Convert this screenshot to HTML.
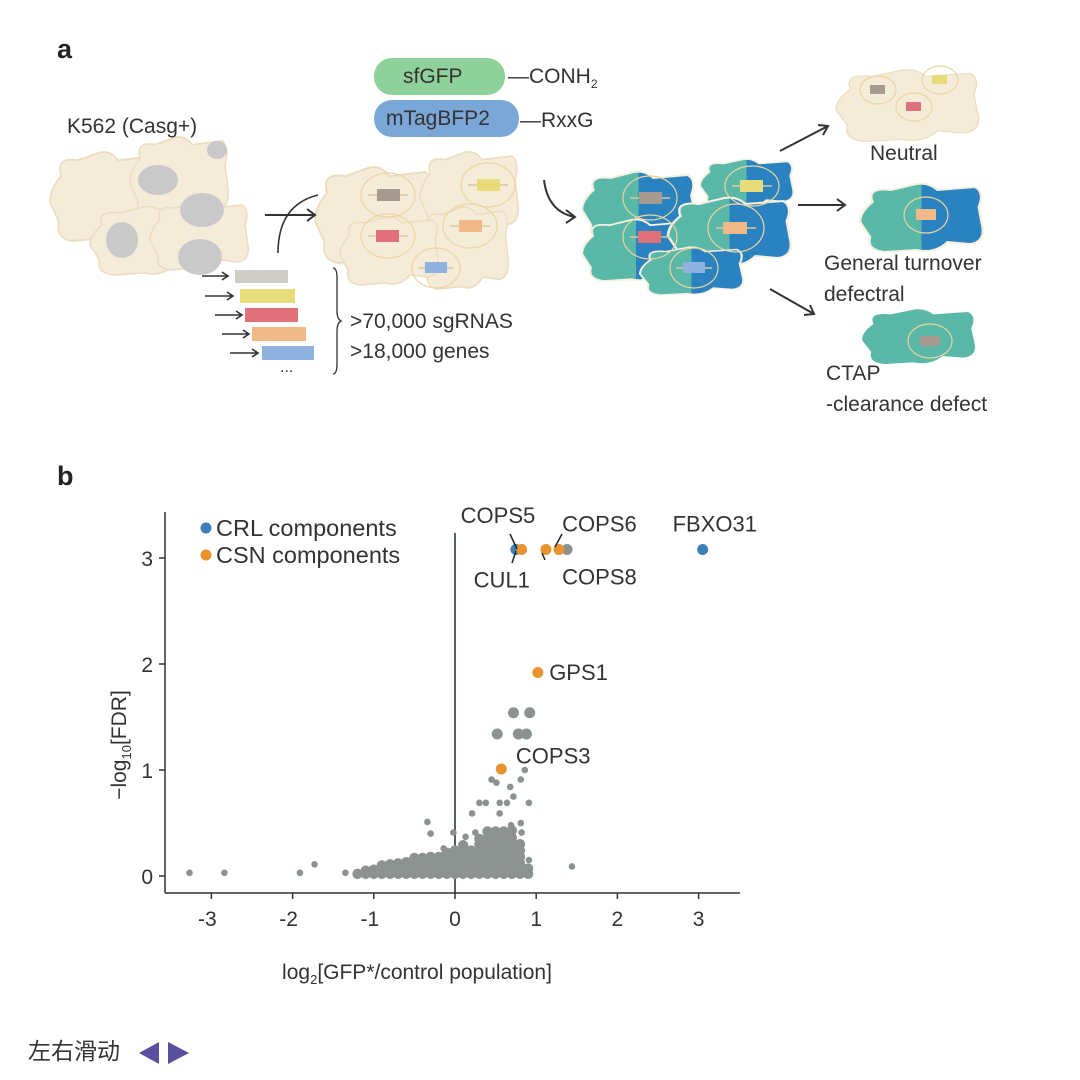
<!DOCTYPE html>
<html><head><meta charset="utf-8"><style>
body{margin:0;background:#fff;}
#wrap{position:relative;width:1080px;height:1080px;overflow:hidden;font-family:"Liberation Sans","Noto Sans CJK SC",sans-serif;color:#333;}
.t{position:absolute;white-space:nowrap;line-height:1;}
svg{position:absolute;left:0;top:0;}
</style></head><body>
<div id="wrap">
<svg width="1080" height="1080">
<defs>
<linearGradient id="tb" x1="0" x2="1" y1="0" y2="0"><stop offset="0.5" stop-color="#5ab8a8"/><stop offset="0.5" stop-color="#2b82c0"/></linearGradient>
<path id="blob" d="M10,20 Q5,5 25,8 L45,2 Q55,0 62,8 L92,5 Q100,10 95,25 L98,45 Q100,60 88,62 L70,60 Q60,72 45,68 L20,70 Q5,68 8,55 L0,40 Q0,30 10,20 Z"/>
</defs>
<g fill="#f4ebd9" stroke="#eedcc0" stroke-width="1.5">
<use href="#blob" transform="translate(50,150) scale(1.1,1.3)"/>
<use href="#blob" transform="translate(130,135) scale(1.0,1.2)"/>
<use href="#blob" transform="translate(90,205) scale(1.2,1.0)"/>
<use href="#blob" transform="translate(150,200) scale(1.0,1.0)"/>
</g>
<g fill="#c9c9c9">
<ellipse cx="158" cy="180" rx="20" ry="15"/><ellipse cx="202" cy="210" rx="22" ry="17"/><ellipse cx="122" cy="240" rx="16" ry="18"/><ellipse cx="200" cy="257" rx="22" ry="18"/><ellipse cx="217" cy="150" rx="10" ry="9"/>
</g>
<g fill="#f4ebd9" stroke="#eedcc0" stroke-width="1.5">
<use href="#blob" transform="translate(315,165) scale(1.2,1.4)"/>
<use href="#blob" transform="translate(420,150) scale(1.0,1.2)"/>
<use href="#blob" transform="translate(420,205) scale(0.9,1.2)"/>
<use href="#blob" transform="translate(340,215) scale(1.0,1.0)"/>
</g>
<g fill="none" stroke="#e9d6a0" stroke-width="1.2">
<ellipse cx="388" cy="195" rx="27" ry="22"/><ellipse cx="488" cy="185" rx="27" ry="22"/><ellipse cx="388" cy="236" rx="27" ry="22"/><ellipse cx="470" cy="226" rx="27" ry="22"/><ellipse cx="436" cy="268" rx="24" ry="20"/>
</g>
<g fill="url(#tb)" stroke="#f5f0e0" stroke-width="2">
<use href="#blob" transform="translate(582,170) scale(1.15,1.0)"/>
<use href="#blob" transform="translate(700,158) scale(0.95,0.7)"/>
<use href="#blob" transform="translate(582,218) scale(1.1,0.9)"/>
<use href="#blob" transform="translate(668,196) scale(1.25,1.0)"/>
<use href="#blob" transform="translate(640,246) scale(1.05,0.7)"/>
<use href="#blob" transform="translate(860,182) scale(1.25,1.0)"/>
</g>
<g fill="#5ab8a8"><use href="#blob" transform="translate(862,308) scale(1.15,0.8)"/></g>
<g fill="#f4ebd9" stroke="#eedcc0"><use href="#blob" transform="translate(836,68) scale(1.45,1.05)"/></g>
<g fill="none" stroke="#e9d6a0" stroke-width="1.2"><ellipse cx="878" cy="90" rx="18" ry="14"/><ellipse cx="940" cy="80" rx="18" ry="14"/><ellipse cx="914" cy="107" rx="18" ry="14"/><ellipse cx="926" cy="215" rx="22" ry="18"/><ellipse cx="930" cy="341" rx="22" ry="17"/><ellipse cx="650" cy="198" rx="27" ry="22"/><ellipse cx="752" cy="186" rx="27" ry="20"/><ellipse cx="650" cy="237" rx="27" ry="22"/><ellipse cx="736" cy="228" rx="28" ry="24"/><ellipse cx="694" cy="268" rx="24" ry="20"/></g>
<g stroke="#d8c8a0" stroke-width="1.5">
<line x1="368" y1="195" x2="408" y2="195"/><line x1="468" y1="185" x2="508" y2="185"/><line x1="368" y1="236" x2="408" y2="236"/><line x1="450" y1="226" x2="490" y2="226"/><line x1="418" y1="268" x2="454" y2="268"/>
<line x1="630" y1="198" x2="670" y2="198"/><line x1="732" y1="186" x2="772" y2="186"/><line x1="630" y1="237" x2="670" y2="237"/><line x1="716" y1="228" x2="756" y2="228"/><line x1="676" y1="268" x2="712" y2="268"/>
</g>
<g>
<rect x="377" y="189" width="23" height="12" fill="#a79a8e"/><rect x="477" y="179" width="23" height="12" fill="#e8dc7a"/><rect x="376" y="230" width="23" height="12" fill="#e0707a"/><rect x="459" y="220" width="23" height="12" fill="#f0b987"/><rect x="425" y="262" width="22" height="11" fill="#8fb1e0"/>
<rect x="639" y="192" width="23" height="12" fill="#a79a8e"/><rect x="740" y="180" width="23" height="12" fill="#e8dc7a"/><rect x="638" y="231" width="23" height="12" fill="#e0707a"/><rect x="723" y="222" width="24" height="12" fill="#f0b987"/><rect x="683" y="262" width="22" height="11" fill="#8fb1e0"/>
<rect x="870" y="85" width="15" height="9" fill="#a79a8e"/><rect x="932" y="75" width="15" height="9" fill="#e8dc7a"/><rect x="906" y="102" width="15" height="9" fill="#e0707a"/><rect x="916" y="209" width="20" height="11" fill="#f0b987"/><rect x="920" y="336" width="20" height="10" fill="#a79a8e"/>
</g>
<g>
<rect x="235" y="270" width="53" height="13" fill="#d0cdc8"/><rect x="240" y="289" width="55" height="14" fill="#e8dc7a"/><rect x="245" y="308" width="53" height="14" fill="#e0707a"/><rect x="252" y="327" width="54" height="14" fill="#f0b987"/><rect x="262" y="346" width="52" height="14" fill="#8fb1e0"/>
</g>
<g stroke="#333" stroke-width="1.6" fill="none">
<path d="M202,276 h26 M222,272 l6,4 -6,4"/><path d="M205,296 h28 M227,292 l6,4 -6,4"/><path d="M215,315 h27 M236,311 l6,4 -6,4"/><path d="M222,334 h27 M243,330 l6,4 -6,4"/><path d="M230,353 h28 M252,349 l6,4 -6,4"/>
<path d="M278,253 Q278,205 318,195"/><path d="M265,215 h50 M307,209 l8,6 -8,6" stroke-width="2"/>
<path d="M544,180 Q548,212 575,217 M566,210 l9,7 -9,6" stroke-width="2"/>
<path d="M780,151 L828,126 M818,125 l10,1 -5,9" stroke-width="2"/>
<path d="M798,205 h46 M837,199 l8,6 -8,6" stroke-width="2"/>
<path d="M770,289 L814,314 M804,315 l10,-1 -4,-9" stroke-width="2"/>
<path d="M333,268 q4,0 4,10 v33 q0,8 4,10 q-4,2 -4,10 v33 q0,10 -4,10" stroke-width="1.3"/>
</g>
<rect x="374" y="58" width="131" height="37" rx="18" fill="#8fd19a"/>
<rect x="374" y="100" width="145" height="37" rx="18" fill="#7aa6d8"/>
</svg>

<div class="t" style="left:57px;top:36px;font-size:27px;font-weight:bold;color:#222">a</div>
<div class="t" style="left:67px;top:116px;font-size:21px">K562 (Casg+)</div>
<div class="t" style="left:403px;top:66px;font-size:21px">sfGFP</div>
<div class="t" style="left:386px;top:108px;font-size:21px">mTagBFP2</div>
<div class="t" style="left:508px;top:66px;font-size:21px">—CONH<sub style="font-size:12px">2</sub></div>
<div class="t" style="left:520px;top:110px;font-size:21px">—RxxG</div>
<div class="t" style="left:350px;top:311px;font-size:21px">&gt;70,000 sgRNAS</div>
<div class="t" style="left:350px;top:341px;font-size:21px">&gt;18,000 genes</div>
<div class="t" style="left:280px;top:360px;font-size:16px">...</div>
<div class="t" style="left:870px;top:143px;font-size:21px">Neutral</div>
<div class="t" style="left:824px;top:253px;font-size:21px">General turnover</div>
<div class="t" style="left:824px;top:284px;font-size:21px">defectral</div>
<div class="t" style="left:826px;top:363px;font-size:21px">CTAP</div>
<div class="t" style="left:826px;top:394px;font-size:21px">-clearance defect</div>
<div class="t" style="left:57px;top:463px;font-size:27px;font-weight:bold;color:#222">b</div>

<svg id="chart" width="1080" height="1080"></svg>

<div class="t" style="left:28px;top:1040px;font-size:23px">左右滑动</div>
<svg width="1080" height="1080" style="pointer-events:none">
<polygon points="159,1042 159,1064 139,1053" fill="#5a4f9e"/>
<polygon points="168,1042 168,1064 189,1053" fill="#5a4f9e"/>
</svg>
</div>
<script>
const xTicks=[-3,-2,-1,0,1,2,3];
const yTicks=[0,1,2,3];
const hlX=[3.05,0.75,0.82,1.12,1.28,1.02,0.57];
const hlY=[3.08,3.08,3.08,3.08,3.08,1.92,1.01];
const hlGroup=['CRL','CRL','CSN','CSN','CSN','CSN','CSN'];
const bigX=[0.72,0.92,0.52,0.78,0.88,1.38];
const bigY=[1.54,1.54,1.34,1.34,1.34,3.08];
const outX=[-3.27,-2.84,-1.91,-1.73,-1.35,1.44,0.91,-0.34,-0.30,-0.02,0.13,0.25,0.21,0.30,0.38,0.55,0.64,0.91,0.55,0.72,0.68,0.45,0.51,0.81,0.86,0.69,0.81,0.82,0.43,-0.14];
const outY=[0.03,0.03,0.03,0.11,0.03,0.09,0.15,0.51,0.40,0.41,0.37,0.41,0.59,0.69,0.69,0.69,0.69,0.69,0.59,0.75,0.84,0.91,0.88,0.91,1.00,0.48,0.50,0.41,0.40,0.26];
const cloudCols=[-1.2,-1.1,-1.0,-0.9,-0.8,-0.7,-0.6,-0.5,-0.4,-0.3,-0.2,-0.1,0.0,0.1,0.2,0.3,0.4,0.5,0.6,0.7,0.8,0.9];
const cloudTops=[
[0.02],[0.02,0.05],[0.02,0.06],[0.02,0.06,0.10],[0.02,0.07,0.11],[0.02,0.07,0.12],[0.02,0.07,0.13],
[0.02,0.07,0.12,0.17],[0.02,0.07,0.12,0.17],[0.02,0.07,0.12,0.18],[0.02,0.07,0.12,0.18],[0.02,0.07,0.12,0.18,0.22],
[0.02,0.07,0.12,0.18,0.24],[0.02,0.07,0.12,0.18,0.24,0.29],[0.02,0.07,0.12,0.18,0.24],[0.02,0.07,0.12,0.18,0.24,0.30,0.35],
[0.02,0.07,0.12,0.18,0.24,0.30,0.36,0.42],[0.02,0.07,0.12,0.18,0.24,0.30,0.36,0.42],[0.02,0.07,0.12,0.18,0.24,0.30,0.36,0.42],
[0.02,0.07,0.12,0.18,0.24,0.30,0.36,0.43],[0.02,0.07,0.12,0.18,0.24,0.30],[0.02,0.07]];
const labels=['FBXO31','COPS5','CUL1','COPS6','COPS8','GPS1','COPS3'];
const labelAt=[[2.68,3.25],[0.07,3.33],[0.23,2.72],[1.32,3.25],[1.32,2.75],[1.16,1.85],[0.75,1.06]];

const NS='http://www.w3.org/2000/svg';
const svg=document.getElementById('chart');
const sx=v=>455+v*81.2;
const sy=v=>876-v*106;
function mk(tag,attrs){const e=document.createElementNS(NS,tag);for(const k in attrs)e.setAttribute(k,attrs[k]);svg.appendChild(e);return e;}
let a=mk('line',{x1:165,y1:512,x2:165,y2:893,stroke:'#333','stroke-width':1.5});


a=mk('line',{x1:165,y1:893,x2:740,y2:893,stroke:'#333','stroke-width':1.5});


a=mk('line',{x1:sx(0),y1:533,x2:sx(0),y2:893,stroke:'#1f2e2a','stroke-width':1.5});


xTicks.forEach(v=>{
 const l=mk('line',{x1:sx(v),y1:893,x2:sx(v),y2:899,stroke:'#333','stroke-width':1.5});
 
 
 const t=mk('text',{x:sx(v)+(v<0?-4:0),y:926,'text-anchor':'middle','font-size':21,fill:'#333'});
 t.textContent=(v<0?'-':'')+Math.abs(v);
 
 
});
yTicks.forEach(v=>{
 const l=mk('line',{x1:159,y1:sy(v),x2:165,y2:sy(v),stroke:'#333','stroke-width':1.5});
 
 
 const t=mk('text',{x:153,y:sy(v)+8,'text-anchor':'end','font-size':21,fill:'#333'});
 t.textContent=v;
 
 
});
cloudCols.forEach((cx,i)=>{cloudTops[i].forEach(cy=>{
 const c=mk('circle',{cx:sx(cx),cy:sy(cy),r:5.2,fill:'#8c9290'});
 
 
});});
outX.forEach((x,i)=>{
 const c=mk('circle',{cx:sx(x),cy:sy(outY[i]),r:3.3,fill:'#8c9290'});
 
 
});
bigX.forEach((x,i)=>{
 const c=mk('circle',{cx:sx(x),cy:sy(bigY[i]),r:5.5,fill:'#8c9290'});
 
 
});
hlX.forEach((x,i)=>{
 const c=mk('circle',{cx:sx(x),cy:sy(hlY[i]),r:5.5,fill:hlGroup[i]==='CRL'?'#3d7fb8':'#e8932e'});
 
 
});
labels.forEach((s,i)=>{
 const t=mk('text',{x:sx(labelAt[i][0]),y:sy(labelAt[i][1]),'text-anchor':'start','font-size':22,fill:'#333'});
 t.textContent=s;
 
 
});
[[510,534,517,549],[512,563,516,551],[562,534,555,547],[545,560,542,553]].forEach(p=>{
 const l=mk('line',{x1:p[0],y1:p[1],x2:p[2],y2:p[3],stroke:'#222','stroke-width':1.5});
 
 
});
[['#3d7fb8','CRL components',528],['#e8932e','CSN components',555]].forEach(d=>{
 const c=mk('circle',{cx:206,cy:d[2],r:5.5,fill:d[0]});
 
 
 const t=mk('text',{x:216,y:d[2]+8,'font-size':23.5,fill:'#333'});
 t.textContent=d[1];
 
 
});
let yl=mk('text',{x:0,y:0,'text-anchor':'middle','font-size':21,fill:'#333',transform:'translate(126,745) rotate(-90)'});
yl.innerHTML='−log<tspan font-size="13" dy="5">10</tspan><tspan dy="-5">[FDR]</tspan>';


let xl=mk('text',{x:417,y:979,'text-anchor':'middle','font-size':21,fill:'#333'});
xl.innerHTML='log<tspan font-size="13" dy="5">2</tspan><tspan dy="-5">[GFP*/control population]</tspan>';


svg.querySelectorAll('text').forEach(t=>t.setAttribute('font-family','Liberation Sans, sans-serif'));
</script>
</body></html>
